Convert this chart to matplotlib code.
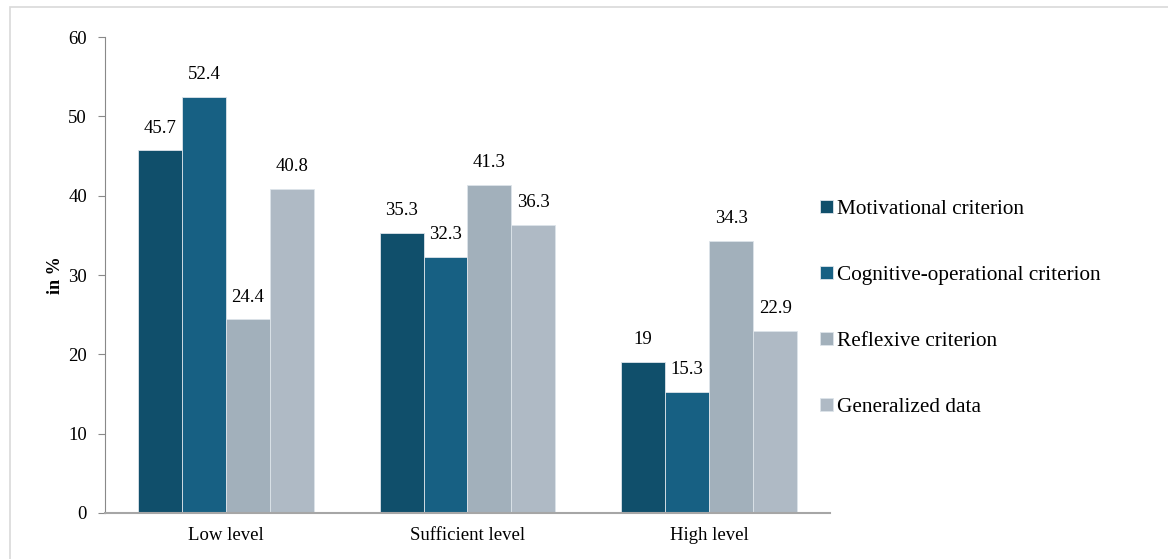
import matplotlib.pyplot as plt
import numpy as np
from matplotlib.patches import Rectangle

plt.rcParams['font.family'] = ['Liberation Serif', 'DejaVu Serif']

categories = ['Low level', 'Sufficient level', 'High level']
series_names = ['Motivational criterion', 'Cognitive-operational criterion',
                'Reflexive criterion', 'Generalized data']
motivational = [45.7, 35.3, 19]
cognitive = [52.4, 32.3, 15.3]
reflexive = [24.4, 41.3, 34.3]
generalized = [40.8, 36.3, 22.9]
colors = ['#104F6B', '#176083', '#A2B0BB', '#AFBAC5']

fig = plt.figure(figsize=(11.68, 5.59), dpi=100)
ax = fig.add_axes([0.0899, 0.0823, 0.6207, 0.8515])

x = np.arange(len(categories))
w = 0.182
series = [motivational, cognitive, reflexive, generalized]
for i, (vals, name, c) in enumerate(zip(series, series_names, colors)):
    pos = x + (i - 1.5) * w
    ax.bar(pos, vals, w, color=c, edgecolor='#DDE4EA', linewidth=0.6, label=name)
    for px, v in zip(pos, vals):
        ax.annotate(f'{v:g}', (px, v), xytext=(0, 10), textcoords='offset points',
                    ha='center', va='bottom', fontsize=13.5)

ax.set_xlim(-0.5, 2.5)
ax.set_ylim(0, 60)
ax.set_yticks(range(0, 61, 10))
ax.set_xticks(x)
ax.set_xticklabels(categories, fontsize=13.5)
ax.tick_params(axis='x', length=0, pad=10)
ax.tick_params(axis='y', labelsize=13.5, length=5, color='#898989', pad=8)
ax.set_ylabel('in %', fontsize=13, fontweight='bold', labelpad=3)
for s in ['top', 'right']:
    ax.spines[s].set_visible(False)
ax.spines['left'].set_color('#898989')
ax.spines['bottom'].set_color('#A6A6A6')
ax.spines['bottom'].set_linewidth(1.5)

ax.legend(loc='center left', bbox_to_anchor=(0.686, 0.448), bbox_transform=fig.transFigure,
          frameon=False, fontsize=15.3, handlelength=0.6, handleheight=0.6,
          handletextpad=0.2, labelspacing=2.2)

fig.patches.append(Rectangle((0.0086, -0.01), 1.0, 0.998, transform=fig.transFigure,
                             fill=False, edgecolor='#D9D9D9', linewidth=1.2))

fig.savefig('out.png', dpi=100)
